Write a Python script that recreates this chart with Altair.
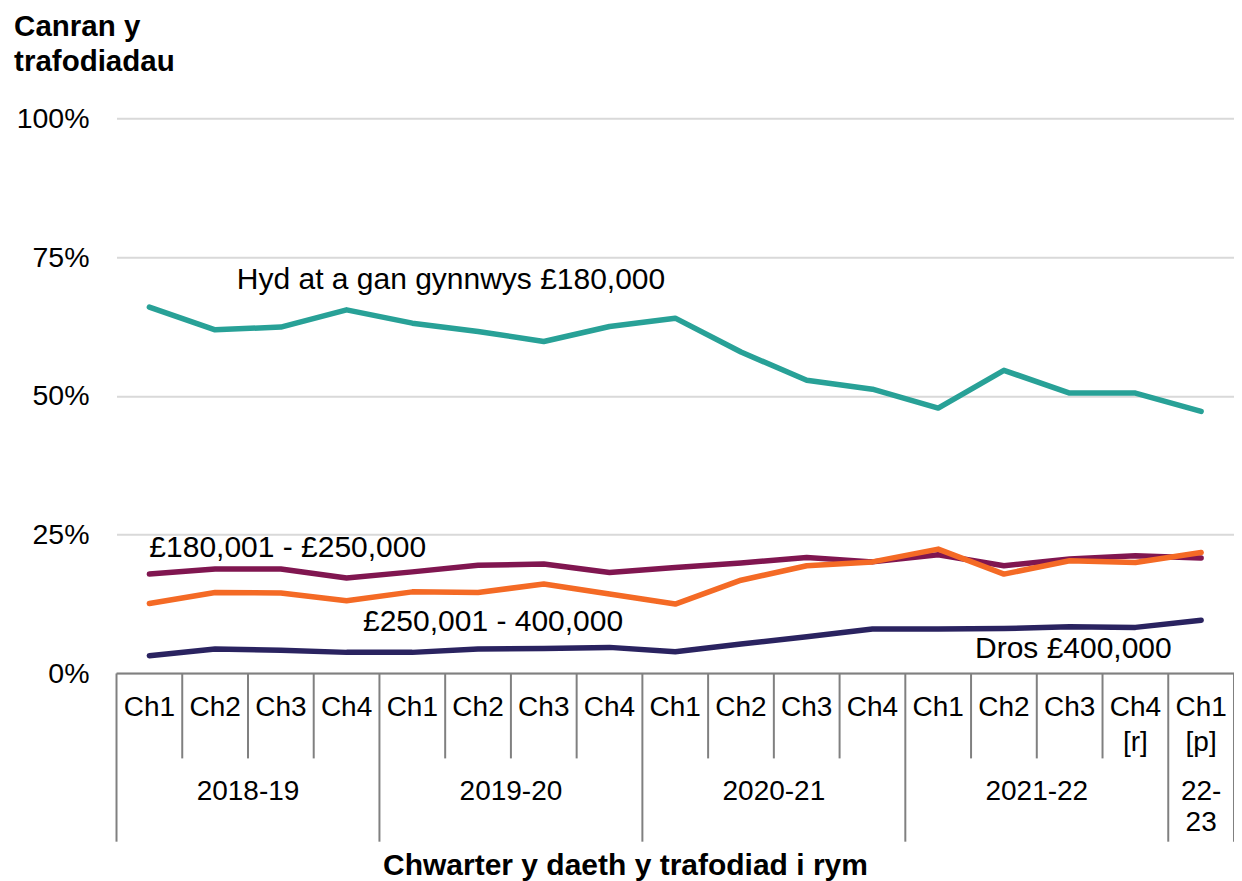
import altair as alt
import pandas as pd

# ---------------- data ----------------
quarters = ["Ch1", "Ch2", "Ch3", "Ch4", "Ch1", "Ch2", "Ch3", "Ch4", "Ch1",
            "Ch2", "Ch3", "Ch4", "Ch1", "Ch2", "Ch3", "Ch4", "Ch1"]
quarter_notes = [""] * 15 + ["[r]", "[p]"]
year_of_quarter = (["2018-19"] * 4 + ["2019-20"] * 4 + ["2020-21"] * 4
                   + ["2021-22"] * 4 + ["22-23"])
year_labels = {"2018-19": ["2018-19"], "2019-20": ["2019-20"],
               "2020-21": ["2020-21"], "2021-22": ["2021-22"],
               "22-23": ["22-", "23"]}

series_names = ["Hyd at a gan gynnwys £180,000", "£180,001 - £250,000",
                "£250,001 - 400,000", "Dros £400,000"]
series_colors = ["#28A197", "#801650", "#F46A25", "#2A2360"]

upto_180k = [66.0, 61.9, 62.4, 65.5, 63.1, 61.6, 59.8, 62.5, 64.0,
             57.9, 52.8, 51.2, 47.8, 54.6, 50.5, 50.5, 47.2]
from_180k_250k = [17.9, 18.8, 18.8, 17.2, 18.3, 19.5, 19.7, 18.2, 19.1,
                  19.9, 20.9, 20.1, 21.4, 19.4, 20.6, 21.2, 20.8]
from_250k_400k = [12.6, 14.6, 14.5, 13.1, 14.7, 14.6, 16.1, 14.3, 12.5,
                  16.8, 19.4, 20.1, 22.4, 17.9, 20.3, 20.0, 21.8]
over_400k = [3.2, 4.4, 4.2, 3.8, 3.8, 4.4, 4.5, 4.7, 3.9,
             5.3, 6.6, 8.0, 8.0, 8.1, 8.4, 8.3, 9.6]

y_ticks = [0, 25, 50, 75, 100]

# label anchor points: (quarter position, percent)
label_x = [1.83, 0.50, 3.75, 13.06]
label_y = [70.9, 22.6, 9.3, 4.4]

# ---------------- layout constants ----------------
N = len(quarters)
Y_MIN = -30.3          # bottom of the category table
Q_SEP_BOTTOM = -15.3   # bottom of quarter separators
Q_LINE1, Q_LINE2 = -6.3, -12.6
YR_LINE1, YR_LINE2 = -21.3, -27.0
FONT = "Liberation Sans"

# ---------------- tables ----------------
rows = []
for name, vals in zip(series_names, [upto_180k, from_180k_250k,
                                     from_250k_400k, over_400k]):
    for i, v in enumerate(vals):
        rows.append({"x": i + 0.5, "y": v, "series": name})
df = pd.DataFrame(rows)

labels_df = pd.DataFrame({"x": label_x, "y": label_y, "text": series_names})

txt = []
for i, (q, n) in enumerate(zip(quarters, quarter_notes)):
    txt.append({"x": i + 0.5, "y": Q_LINE1, "text": q})
    if n:
        txt.append({"x": i + 0.5, "y": Q_LINE2, "text": n})
year_order = list(dict.fromkeys(year_of_quarter))
boundaries = [0]
for yname in year_order:
    idx = [i for i, yy in enumerate(year_of_quarter) if yy == yname]
    centre = (idx[0] + idx[-1] + 1) / 2
    for k, line in enumerate(year_labels[yname]):
        txt.append({"x": centre, "y": YR_LINE1 if k == 0 else YR_LINE2,
                    "text": line})
    boundaries.append(idx[-1] + 1)
txt_df = pd.DataFrame(txt)

seps = []
for b in range(N + 1):
    seps.append({"x": b, "y": 0, "y2": Y_MIN if b in boundaries else Q_SEP_BOTTOM})
sep_df = pd.DataFrame(seps)
zero_df = pd.DataFrame({"x": [0], "x2": [N], "y": [0]})

# ---------------- shared encodings ----------------
x_enc = alt.X("x:Q", scale=alt.Scale(domain=[0, N], nice=False, zero=False),
              axis=alt.Axis(title="Chwarter y daeth y trafodiad i rym",
                            labels=False, ticks=False, domain=False, grid=False,
                            titleX=508.5, titleY=24, titleBaseline="middle",
                            titleFontSize=30, titleFontWeight="bold",
                            titleFont=FONT, titleColor="black"))
y_enc = alt.Y("y:Q", scale=alt.Scale(domain=[Y_MIN, 100], nice=False, zero=False),
              axis=alt.Axis(title=None, values=y_ticks,
                            labelExpr="datum.value + '%'",
                            grid=True, gridColor="#d9d9d9", gridWidth=2,
                            domain=False, ticks=False, labelPadding=27.5,
                            labelFontSize=28.5, labelFont=FONT,
                            labelColor="black"))

lines = alt.Chart(df).mark_line(strokeWidth=5.5, strokeCap="round",
                                strokeJoin="round").encode(
    x=x_enc, y=y_enc,
    color=alt.Color("series:N", scale=alt.Scale(domain=series_names,
                                                range=series_colors),
                    legend=None),
)

sep_rules = alt.Chart(sep_df).mark_rule(color="#808080", strokeWidth=2).encode(
    x=x_enc, y=y_enc, y2="y2:Q",
)
zero_rule = alt.Chart(zero_df).mark_rule(color="#808080", strokeWidth=2).encode(
    x=x_enc, x2="x2:Q", y=y_enc,
)

cat_text = alt.Chart(txt_df).mark_text(font=FONT, fontSize=28, color="black",
                                       align="center", baseline="middle").encode(
    x=x_enc, y=y_enc, text="text:N",
)

series_text = alt.Chart(labels_df).mark_text(font=FONT, fontSize=30,
                                             color="black", align="left",
                                             baseline="middle").encode(
    x=x_enc, y=y_enc, text="text:N",
)

chart = alt.layer(lines, sep_rules, zero_rule, cat_text, series_text).properties(
    width=1117.5,
    height=723.4,
    autosize=alt.AutoSizeParams(type="none"),
    padding={"left": 108.5, "top": 110.3, "right": 0, "bottom": 40},
    title=alt.TitleParams(text=["Canran y", "trafodiadau"], anchor="start",
                          frame="bounds", fontSize=29.5, fontWeight="bold",
                          font=FONT, color="black", lineHeight=35,
                          offset=27, dx=-2),
).configure_view(stroke=None)

chart.save("out.html", embed_options={"renderer": "svg", "actions": False})
